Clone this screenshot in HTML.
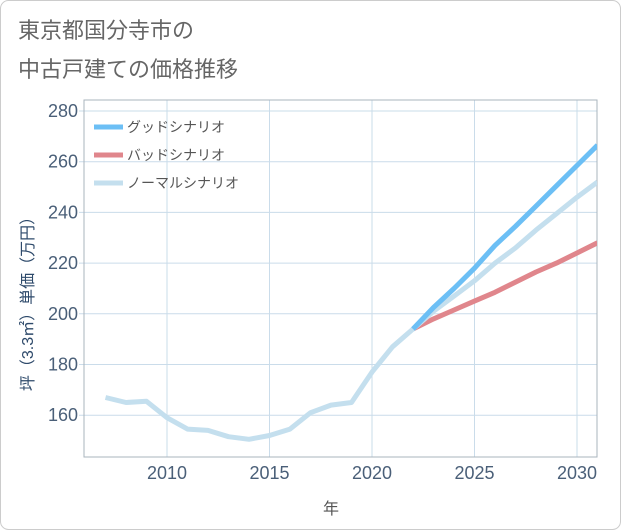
<!DOCTYPE html>
<html><head><meta charset="utf-8"><style>
body{margin:0;background:#fff;font-family:"Liberation Sans","Noto Sans CJK JP",sans-serif;}
#wrap{position:relative;width:621px;height:530px;}
</style></head><body>
<div id="wrap">
<svg id="chart" width="621" height="530" style="position:absolute;left:0;top:0">
<rect x="0.5" y="0.5" width="620" height="529" rx="8" fill="#fff" stroke="#ccc"/>
<text x="18" y="38" font-size="22" fill="#666" font-family="Liberation Sans,Noto Sans CJK JP,sans-serif">東京都国分寺市の</text>
<text x="18" y="77" font-size="22" fill="#666" font-family="Liberation Sans,Noto Sans CJK JP,sans-serif">中古戸建ての価格推移</text>
<g id="grid"></g><g id="axes"></g><g id="series"></g><g id="legend"></g>
<text x="331" y="514" font-size="16" fill="#555" text-anchor="middle" font-family="Liberation Sans,Noto Sans CJK JP,sans-serif">年</text>
<text transform="translate(33,300) rotate(-90)" font-size="16" fill="#2e4a6b" text-anchor="middle" font-family="Liberation Sans,Noto Sans CJK JP,sans-serif">坪（3.3㎡）単価（万円）</text>
</svg>
</div>
<script>
const years=[2007,2008,2009,2010,2011,2012,2013,2014,2015,2016,2017,2018,2019,2020,2021,2022,2023,2024,2025,2026,2027,2028,2029,2030,2031];
const normalValues=[167,165,165.5,159,154.5,154,151.5,150.5,152,154.5,161,164,165,177,187,194,201,207,213,220,226,233,239.5,246,252];
const futureYears=[2022,2023,2024,2025,2026,2027,2028,2029,2030,2031];
const goodValues=[194,202.5,210,218,227,234.5,242.5,250.5,258.5,266.5];
const badValues=[194,198,201.5,205,208.5,212.5,216.5,220,224,228];
const yTicks=[160,180,200,220,240,260,280];
const xTicks=[2010,2015,2020,2025,2030];
const NS="http://www.w3.org/2000/svg";
const L=84,R=597,T=100,B=457;
const xs=y=>167+(y-2010)*20.5;
const ys=v=>111+(280-v)*(50.7/20);
function mk(tag,attrs,parent){const e=document.createElementNS(NS,tag);for(const k in attrs)e.setAttribute(k,attrs[k]);parent.appendChild(e);return e;}
const grid=document.getElementById('grid'),axes=document.getElementById('axes'),ser=document.getElementById('series'),leg=document.getElementById('legend');
yTicks.forEach(v=>{
 const l=mk('line',{x1:L-5,x2:R,y1:ys(v),y2:ys(v),stroke:'#cadcea'},grid);
 
 
 const t=mk('text',{x:78,y:ys(v)+6,'font-size':18,fill:'#4a5f78','text-anchor':'end'},axes);
 t.textContent=v;
 
 
});
xTicks.forEach(v=>{
 const l=mk('line',{x1:xs(v),x2:xs(v),y1:T,y2:B,stroke:'#cadcea'},grid);
 
 
 const t=mk('text',{x:xs(v),y:479,'font-size':18,fill:'#4a5f78','text-anchor':'middle'},axes);
 t.textContent=v;
 
 
});
const border=mk('rect',{x:L,y:T,width:R-L,height:B-T,fill:'none',stroke:'#aab4bd'},grid);


function line(xv,yv,color,name){
 const d=xv.map((x,i)=>(i?'L':'M')+xs(x).toFixed(1)+','+ys(yv[i]).toFixed(1)).join(' ');
 const p=mk('path',{d:d,fill:'none',stroke:color,'stroke-width':5,'stroke-linejoin':'round'},ser);
 
 
}
const clip=mk('clipPath',{id:'cp'},document.getElementById('chart'));
mk('rect',{x:L,y:T,width:R-L,height:B-T},clip);
ser.setAttribute('clip-path','url(#cp)');
line(futureYears,badValues,'#e0868c','bad-scenario-line');
line(years,normalValues,'#c4dfee','normal-scenario-line');
line(futureYears,goodValues,'#6cbff5','good-scenario-line');
const items=[['グッドシナリオ','#6cbff5'],['バッドシナリオ','#e0868c'],['ノーマルシナリオ','#c4dfee']];
items.forEach((it,i)=>{
 const y=127+i*28;
 const l=mk('line',{x1:94,x2:123,y1:y,y2:y,stroke:it[1],'stroke-width':5},leg);
 
 
 const t=mk('text',{x:127,y:y+5,'font-size':14,fill:'#555'},leg);
 t.textContent=it[0];
 
 
});
</script>
</body></html>
